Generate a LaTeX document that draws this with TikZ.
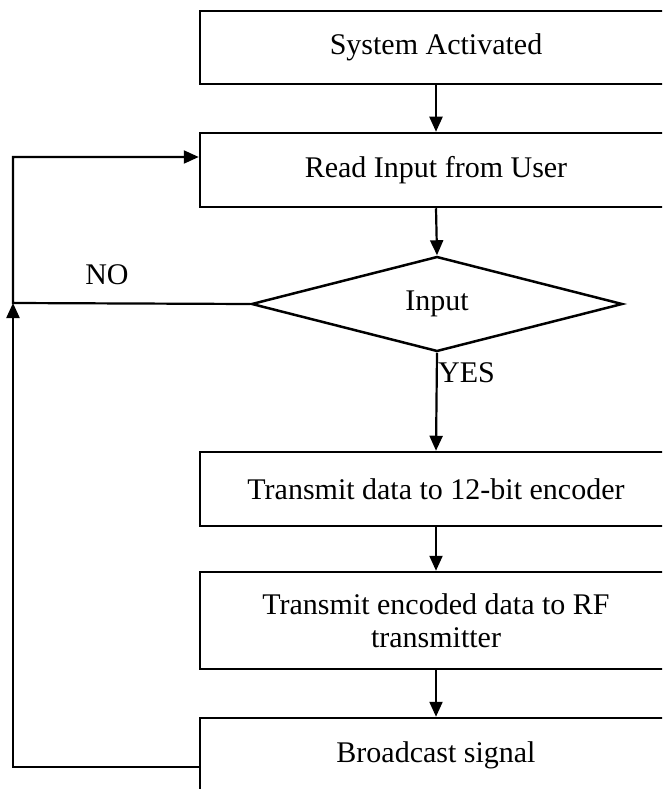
\documentclass[tikz,border=0pt]{standalone}
\usepackage{fontspec}
\setmainfont{Liberation Serif}
\usetikzlibrary{shapes.geometric,arrows.meta}
\tikzset{
  box/.style={draw, line width=2.5pt, rectangle, minimum width=472pt, inner sep=0pt, align=center,
              font=\fontsize{30}{33}\selectfont},
  decision/.style={draw, line width=2.5pt, diamond, minimum width=371pt, minimum height=95pt, inner sep=0pt,
              font=\fontsize{30}{33}\selectfont},
  lbl/.style={inner sep=0pt, font=\fontsize{30}{33}\selectfont},
  arr/.style={line width=2.2pt, -{Triangle[length=15pt,width=13pt]}},
}
\begin{document}
\begin{tikzpicture}[x=1pt,y=-1pt]
\useasboundingbox (0,0) rectangle (662,789);
\clip (0,0) rectangle (662,789);
\fill[white] (0,0) rectangle (662,789);
% boxes (left edge at x=200, right edge beyond the frame)
\node[box, minimum height=73pt] (b1) at (436,47.5) {System Activated};
\node[box, minimum height=74pt] (b2) at (436,170) {Read Input from User};
\node[decision] (dec) at (437,304) {Input};
\node[box, minimum height=74pt] (b3) at (436,489) {Transmit data to 12-bit encoder};
\node[box, minimum height=97pt] (b4) at (436,620.5) {Transmit encoded data to RF\\transmitter};
\node[box, minimum height=74pt] (b5) at (436,755) {Broadcast signal};
% labels
\node[lbl] (no) at (107,275) {NO};
\node[lbl, anchor=west] (yes) at (438,373) {YES};
% feedback coordinates
\coordinate (j) at (13,303);
\coordinate (t) at (13,157);
\coordinate (f) at (13,767);
% connectors
\draw[arr] (b1.south) -- (b2.north);
\draw[arr] (b2.south) -- (dec.north);
\draw[arr] (dec.south) -- (b3.north);
\draw[arr] (b3.south) -- (b4.north);
\draw[arr] (b4.south) -- (b5.north);
\draw[arr] (dec.west) -- (j) -- (t) -- (t -| b2.west);
\draw[arr] (f -| b5.west) -- (f) -- (j);
\end{tikzpicture}
\end{document}
